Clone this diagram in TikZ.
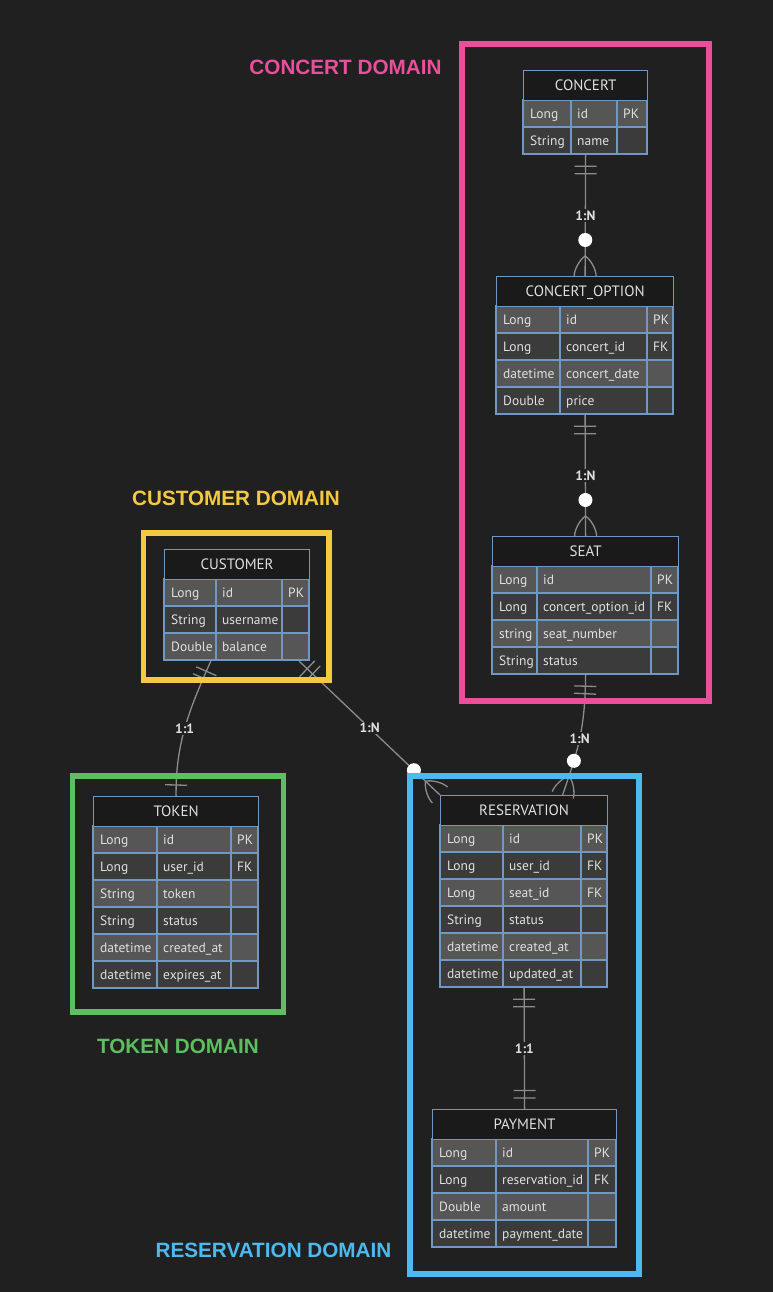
\documentclass[tikz,border=0pt]{standalone}
\usepackage{fontspec}
\usepackage{xcolor}
\usepackage{tikz}
\usetikzlibrary{calc,decorations.markings}
\setmainfont{PT Sans}
\newfontfamily\labelfont{Liberation Sans}

\definecolor{bgc}{HTML}{202020}
\definecolor{rowlight}{HTML}{565656}
\definecolor{rowdark}{HTML}{3B3B3B}
\definecolor{headfill}{HTML}{1A1A1A}
\definecolor{cellline}{HTML}{6F98C4}
\definecolor{fieldtext}{HTML}{E0E0E0}
\definecolor{linec}{HTML}{8C8C8C}
\definecolor{pinkd}{HTML}{E94F9B}
\definecolor{yelld}{HTML}{F5C842}
\definecolor{greend}{HTML}{5DBF5F}
\definecolor{blued}{HTML}{4CB9EF}

\tikzset{
  cell/.style={draw=cellline, line width=1.2pt},
  field/.style={anchor=base west, inner sep=0pt, text=fieldtext, font=\fontsize{13.5}{15}\selectfont},
  entityhead/.style={draw=cellline, line width=1.2pt, fill=headfill, text=fieldtext, inner sep=0pt,
    minimum height=30pt, text height=10.5pt, text depth=0pt, anchor=north west, font=\fontsize{15}{17}\selectfont},
  entitybox/.style={draw=cellline, line width=1.2pt, inner sep=0pt, anchor=north west},
  rel/.style={draw=linec, line width=1.3pt},
  card/.style={fill=bgc, text=fieldtext, inner sep=1.5pt, font=\bfseries\fontsize{13.5}{15}\selectfont},
  frame/.style={line width=5.5pt},
  domainlabel/.style={font=\labelfont\bfseries\fontsize{20.7}{24}\selectfont},
  startone/.style={postaction={decorate, decoration={markings,
      mark=at position 11pt with {\draw[rel] (0,-11pt) -- (0,11pt);},
      mark=at position 18.5pt with {\draw[rel] (0,-11pt) -- (0,11pt);}}}},
  endone/.style={postaction={decorate, decoration={markings,
      mark=at position -18.5pt with {\draw[rel] (0,-11pt) -- (0,11pt);},
      mark=at position -11pt with {\draw[rel] (0,-11pt) -- (0,11pt);}}}},
  endmany/.style={postaction={decorate, decoration={markings,
      mark=at position -36pt with {\fill[white] (0,0) circle (7pt);},
      mark=at position -20pt with {\draw[rel] (0,0) .. controls (4pt,6pt) and (14pt,11pt) .. (20pt,11pt)
          (0,0) .. controls (4pt,-6pt) and (14pt,-11pt) .. (20pt,-11pt);}}}}
}

% rows of one table: left, split 1, split 2, right, top of first row, name, rows
\newcommand{\fieldrows}[7]{%
  \foreach \ty/\nm/\ky [count=\i from 0] in {#7} {
    \pgfmathsetmacro{\rowtop}{#5+27*\i}
    \pgfmathsetmacro{\rowbot}{\rowtop+27}
    \pgfmathsetmacro{\rowbase}{\rowtop+18.2}
    \ifodd\i\relax\def\rowfill{rowdark}\else\def\rowfill{rowlight}\fi
    \filldraw[cell, fill=\rowfill] (#1,\rowtop) rectangle (#4,\rowbot);
    \draw[cell] (#2,\rowtop) -- (#2,\rowbot) (#3,\rowtop) -- (#3,\rowbot);
    \node[field] (#6-ty\i) at (#1+7,\rowbase) {\ty};
    \node[field] (#6-nm\i) at (#2+6,\rowbase) {\nm};
    \node[field] (#6-ky\i) at (#3+6,\rowbase) {\ky};
  }%
}

\begin{document}
\begin{tikzpicture}[x=1pt, y=-1pt]
        \fill[bgc] (0,0) rectangle (773,1292);
        \useasboundingbox (0,0) rectangle (773,1292);

        % Concert table
        \fieldrows{523}{571}{617}{647}{100}{concert}{Long/id/PK, String/name/{}}
        \node[entityhead, minimum width=124pt] (concert-head) at (523,70) {CONCERT};
        \node[entitybox, minimum width=124pt, minimum height=84pt] (concert) at (523,70) {};

        % Concert option table
        \fieldrows{496}{560}{647}{673}{306}{concertopt}{Long/id/PK, Long/concert\_id/FK, datetime/concert\_date/{}, Double/price/{}}
        \node[entityhead, minimum width=177pt] (concertopt-head) at (496,276) {CONCERT\_OPTION};
        \node[entitybox, minimum width=177pt, minimum height=138pt] (concertopt) at (496,276) {};

        % Seat table
        \fieldrows{492}{537}{651}{678}{566}{seat}{Long/id/PK, Long/concert\_option\_id/FK, string/seat\_number/{}, String/status/{}}
        \node[entityhead, minimum width=186pt] (seat-head) at (492,536) {SEAT};
        \node[entitybox, minimum width=186pt, minimum height=138pt] (seat) at (492,536) {};

        % Customer table
        \fieldrows{164}{216}{282}{309}{579}{customer}{Long/id/PK, String/username/{}, Double/balance/{}}
        \node[entityhead, minimum width=145pt] (customer-head) at (164,549) {CUSTOMER};
        \node[entitybox, minimum width=145pt, minimum height=111pt] (customer) at (164,549) {};

        % Token table
        \fieldrows{93}{157}{231}{258}{826}{token}{Long/id/PK, Long/user\_id/FK, String/token/{}, String/status/{}, datetime/created\_at/{}, datetime/expires\_at/{}}
        \node[entityhead, minimum width=165pt] (token-head) at (93,796) {TOKEN};
        \node[entitybox, minimum width=165pt, minimum height=192pt] (token) at (93,796) {};

        % Reservation table
        \fieldrows{440}{503}{581}{607}{825}{reservation}{Long/id/PK, Long/user\_id/FK, Long/seat\_id/FK, String/status/{}, datetime/created\_at/{}, datetime/updated\_at/{}}
        \node[entityhead, minimum width=167pt] (reservation-head) at (440,795) {RESERVATION};
        \node[entitybox, minimum width=167pt, minimum height=192pt] (reservation) at (440,795) {};

        % Payment table
        \fieldrows{432}{496}{588}{616}{1139}{payment}{Long/id/PK, Long/reservation\_id/FK, Double/amount/{}, datetime/payment\_date/{}}
        \node[entityhead, minimum width=184pt] (payment-head) at (432,1109) {PAYMENT};
        \node[entitybox, minimum width=184pt, minimum height=138pt] (payment) at (432,1109) {};

        % Relationships
        \draw[rel, startone, endmany] (concert.south) -- (concertopt.north) node[midway, card] (card-co) {1:N};
        \draw[rel, startone, endmany] (concertopt.south) -- (seat.north) node[midway, card] (card-os) {1:N};
        \draw[rel, startone, endmany] (seat.south) .. controls (585,730) and (578,750) .. ($(reservation.north)+(38.5,0)$) node[midway, card] (card-sr) {1:N};
        \draw[rel, startone, endone] ($(customer.south west)!0.32!(customer.south east)$) .. controls (188,712) and (175.5,745) .. (token.north) node[midway, card] (card-ct) {1:1};
        \draw[rel, startone, endmany] ($(customer.south east)+(-11,0)$) -- (reservation.north west) node[midway, card] (card-cr) {1:N};
        \draw[rel, startone, endone] (reservation.south) -- (payment.north) node[midway, card] (card-rp) {1:1};

        % Domain frames
        \draw[pinkd, frame] (462,44) rectangle (709,701);
        \node[domainlabel, text=pinkd] (concert-dom) at (345.5,67) {CONCERT DOMAIN};
        \draw[yelld, frame] (143.5,533) rectangle (329,680);
        \node[domainlabel, text=yelld] (customer-dom) at (236,498.5) {CUSTOMER DOMAIN};
        \draw[greend, frame] (72.5,776) rectangle (283.5,1012);
        \node[domainlabel, text=greend] (token-dom) at (178,1046) {TOKEN DOMAIN};
        \draw[blued, frame] (410,776) rectangle (639,1274);
        \node[domainlabel, text=blued] (reservation-dom) at (273.5,1250.5) {RESERVATION DOMAIN};
    \end{tikzpicture}
\end{document}
